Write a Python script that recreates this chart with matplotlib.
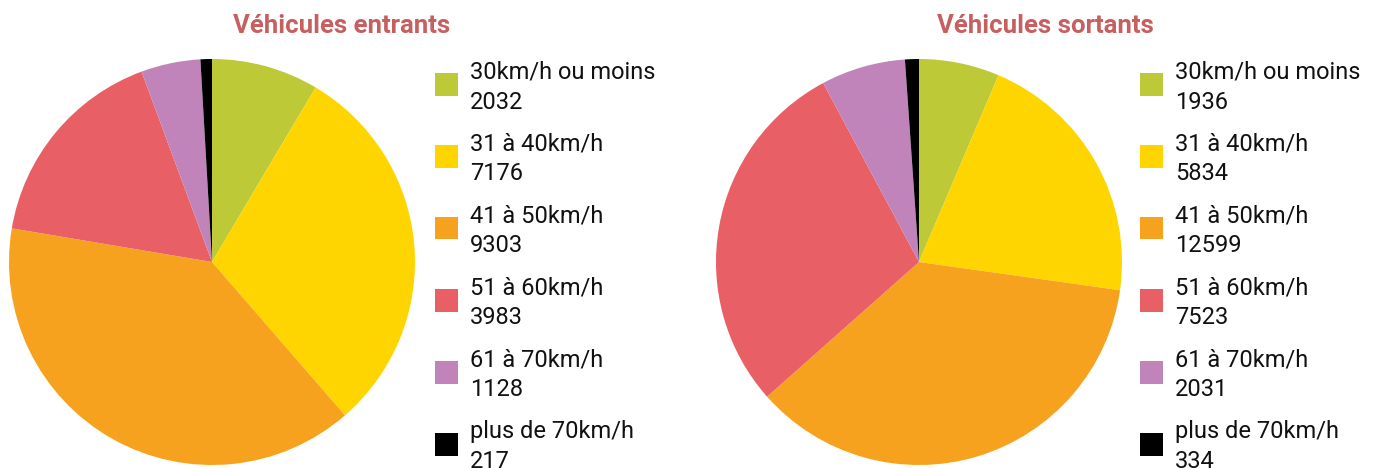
import matplotlib.pyplot as plt
from matplotlib.patches import Rectangle

plt.rcParams['font.family'] = ['Roboto', 'DejaVu Sans']

categories = ["30km/h ou moins", "31 à 40km/h", "41 à 50km/h",
              "51 à 60km/h", "61 à 70km/h", "plus de 70km/h"]
titles = ["Véhicules entrants", "Véhicules sortants"]
colors = ["#bdc936", "#ffd500", "#f7a21e", "#e85f66", "#c084ba", "#000000"]

# counts as printed in the legends
entrants = [2032, 7176, 9303, 3983, 1128, 217]
sortants = [1936, 5834, 12599, 7523, 2031, 334]
# the "sortants" pie in the source does not follow its own legend numbers,
# these are the slice sizes
sortants_slices = [1936, 6290, 10950, 8680, 2031, 334]

W, H = 1380, 468
fig = plt.figure(figsize=(W / 100, H / 100), dpi=100)


def px(x, y):
    return x / W, 1 - y / H


def draw(slices, labels, title, cx, cy, r, leg_x, title_x):
    ax = fig.add_axes([(cx - r) / W, 1 - (cy + r) / H, 2 * r / W, 2 * r / H])
    ax.pie(slices, colors=colors, startangle=90, counterclock=False,
           wedgeprops=dict(linewidth=0))
    ax.set_aspect('equal')
    ax.set_xlim(-1, 1)
    ax.set_ylim(-1, 1)

    tx, ty = px(title_x, 33)
    fig.text(tx, ty, title, ha='center', va='baseline', fontsize=18.5,
             fontweight='bold', color='#c75f60')

    for i, (lab, v) in enumerate(zip(categories, labels)):
        top = 73 + 72 * i
        x0, y0 = px(leg_x, top + 22.5)
        fig.patches.append(Rectangle((x0, y0), 22.5 / W, 22.5 / H,
                                     transform=fig.transFigure,
                                     facecolor=colors[i], edgecolor='none'))
        t1x, t1y = px(leg_x + 35, top + 5)
        fig.text(t1x, t1y, lab, ha='left', va='baseline', fontsize=17, color='#111111')
        t2x, t2y = px(leg_x + 35, top + 35.5)
        fig.text(t2x, t2y, str(v), ha='left', va='baseline', fontsize=17, color='#111111')


draw(entrants, entrants, titles[0], 212, 262, 203, 435, 342)
draw(sortants_slices, sortants, titles[1], 919, 262, 203, 1140, 1045)

fig.savefig("out.png", dpi=100)
